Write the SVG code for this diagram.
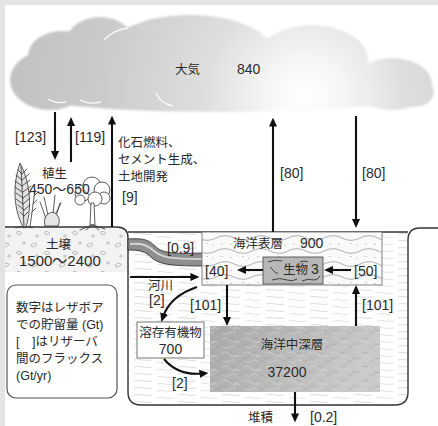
<svg xmlns="http://www.w3.org/2000/svg" width="438" height="426" viewBox="0 0 438 426">
  <defs>
    <style>
      text { font-family: "Liberation Sans", "Noto Sans CJK JP", sans-serif; fill: #2b2b2b; }
      .j { font-size: 12.5px; }
      .n { font-size: 14px; }
      .arrow { fill: none; stroke: #111; stroke-width: 2.1; marker-end: url(#ah); }
      .outline { fill: none; stroke: #333; stroke-width: 1.4; }
      .plant { fill: none; stroke: #333; stroke-width: 0.8; stroke-linecap: round; }
      .seam { fill: none; stroke: #fff; stroke-width: 1.3; opacity: 0.9; }
    </style>
    <marker id="ah" viewBox="0 0 10 10" refX="4" refY="5" markerWidth="9" markerHeight="9" markerUnits="userSpaceOnUse" orient="auto">
      <path d="M0,0.5 L10,5 L0,9.5 z" fill="#111"/>
    </marker>
    <radialGradient id="cloudFill" gradientUnits="userSpaceOnUse" cx="305" cy="96" r="290">
      <stop offset="0" stop-color="#ffffff"/>
      <stop offset="0.12" stop-color="#f7f7f7"/>
      <stop offset="0.35" stop-color="#dedede"/>
      <stop offset="0.7" stop-color="#cbcbcb"/>
      <stop offset="1" stop-color="#c2c2c2"/>
    </radialGradient>
    <filter id="soft" x="-5%" y="-10%" width="110%" height="120%">
      <feGaussianBlur stdDeviation="1"/>
    </filter>
    <linearGradient id="deepFill" x1="0" y1="0" x2="1" y2="0.3">
      <stop offset="0" stop-color="#a9a9a9"/>
      <stop offset="1" stop-color="#c9c9c9"/>
    </linearGradient>
    <pattern id="water" width="44" height="7" patternUnits="userSpaceOnUse">
      <path d="M2,3 q4,-1 9,0 t9,0" fill="none" stroke="#cdcdcd" stroke-width="0.7"/>
      <path d="M25,6 q4,-1 8,0 t8,0" fill="none" stroke="#d6d6d6" stroke-width="0.7"/>
    </pattern>
    <pattern id="waves" width="36" height="13" patternUnits="userSpaceOnUse">
      <path d="M0,4 C6,1 12,1 18,4 S30,7 36,4" fill="none" stroke="#8c8c8c" stroke-width="0.7"/>
      <circle cx="6" cy="9.5" r="0.6" fill="#999"/>
      <circle cx="15" cy="10.5" r="0.6" fill="#999"/>
      <circle cx="27" cy="9.5" r="0.6" fill="#999"/>
      <circle cx="33" cy="11" r="0.6" fill="#999"/>
    </pattern>
    <pattern id="swirl" width="22" height="14" patternUnits="userSpaceOnUse">
      <path d="M1,4 q4,-4 8,0 t8,1 M3,11 q3,3 7,0 q3,-3 6,1 M14,7 q3,-3 6,0" fill="none" stroke="#dadada" stroke-width="0.7" opacity="0.8"/>
      <path d="M0,8 q4,2 7,-1 M10,2 q3,2 6,0 M17,12 q2,-2 5,-1" fill="none" stroke="#929292" stroke-width="0.5" opacity="0.7"/>
    </pattern>
    <pattern id="pebbles" width="28" height="20" patternUnits="userSpaceOnUse">
      <g fill="none" stroke="#9a9a9a" stroke-width="0.6">
        <ellipse cx="6" cy="5" rx="3" ry="1.6" transform="rotate(-20 6 5)"/>
        <ellipse cx="19" cy="13" rx="2.6" ry="1.5" transform="rotate(15 19 13)"/>
        <ellipse cx="24" cy="3" rx="1.5" ry="1"/>
        <ellipse cx="9" cy="16" rx="1.4" ry="1"/>
      </g>
    </pattern>
  </defs>

  <!-- page frame -->
  <rect x="0" y="0" width="438" height="426" fill="#e4e4e4"/>
  <rect x="5" y="5" width="433" height="421" fill="#ffffff"/>

  <!-- atmosphere cloud -->
  <g id="atmosphere">
    <g fill="url(#cloudFill)" filter="url(#soft)">
      <ellipse cx="50" cy="80" rx="40" ry="30"/>
      <ellipse cx="62" cy="56" rx="34" ry="25"/>
      <ellipse cx="100" cy="51" rx="38" ry="34"/>
      <ellipse cx="190" cy="56" rx="86" ry="41"/>
      <ellipse cx="312" cy="60" rx="56" ry="35"/>
      <ellipse cx="392" cy="84" rx="40" ry="26"/>
      <ellipse cx="414" cy="92" rx="20" ry="15"/>
      <ellipse cx="222" cy="92" rx="206" ry="20"/>
    </g>
    <path class="seam" d="M104,40 Q113,30 128,28"/>
    <path class="seam" d="M262,36 Q268,30 281,29"/>
    <path class="seam" d="M48,99 Q56,104 66,102"/>
    <path class="seam" d="M80,100 Q89,105 101,102"/>
    <path class="seam" d="M156,93 Q160,103 173,106"/>
    <path class="seam" d="M272,107 Q281,111 293,108"/>
    <text class="j" x="175" y="74">大気</text>
    <text class="n" x="237" y="74">840</text>
  </g>

  <!-- ocean basin with water -->
  <g id="ocean-basin">
    <rect x="128" y="232" width="280" height="173" fill="url(#water)"/>
    <line x1="128" y1="232" x2="408" y2="232" stroke="#333" stroke-width="1.3"/>
  </g>

  <!-- soil block -->
  <g id="soil">
    <path d="M5,227 L117,227 Q128,227 128,238 L128,272 L5,272 Z" fill="#f3f3f3"/>
    <path d="M5,227 L117,227 Q128,227 128,238 L128,272 L5,272 Z" fill="url(#pebbles)"/>
    <text class="j" x="46" y="249">土壌</text>
    <text x="19" y="266" style="font-size:15px">1500〜2400</text>
  </g>

  <!-- land / basin outline -->
  <path class="outline" d="M5,227 L117,227 Q128,227 128,238 L128,392 Q128,405 141,405 L395,405 Q408,405 408,392 L408,240 Q408,228 420,228 L438,228"/>

  <!-- vegetation -->
  <g id="vegetation">
    <!-- fern -->
    <path d="M23,227 C14,210 12,186 20,163 C29,180 33,205 26,227 Z" fill="#e2e2e2" stroke="#333" stroke-width="0.8"/>
    <path class="plant" d="M24,227 L21,166"/>
    <path class="plant" d="M22,174 l-4,-4 M22,174 l5,-5 M22,180 l-6,-5 M22,180 l7,-6 M22,186 l-7,-5 M22,186 l8,-6 M22,192 l-7,-5 M23,192 l8,-6 M23,198 l-7,-5 M23,198 l8,-6 M23,204 l-7,-5 M23,204 l7,-6 M24,210 l-6,-5 M24,210 l6,-5 M24,216 l-4,-4 M24,216 l4,-4"/>
    <path class="plant" d="M30,227 L35,190 M34,196 l4,-4 M33,204 l4,-4 M32,212 l4,-4"/>
    <path class="plant" d="M16,228 q4,-3 8,0 q4,-3 8,0"/>
    <!-- grass -->
    <path class="plant" stroke="#888" d="M50,224 L44,197 M52,224 L55,195 M48,224 L40,202 M54,224 L60,203"/>
    <path d="M45,226 q-2,-8 3,-12 q5,-4 9,1 q4,4 1,11 z" fill="#e6e6e6" stroke="#333" stroke-width="0.8"/>
    <path class="plant" d="M56,213 l5,-10"/>
    <!-- tree -->
    <g fill="#fff" stroke="#333" stroke-width="0.8">
      <circle cx="83" cy="193" r="8"/>
      <circle cx="92" cy="186" r="9"/>
      <circle cx="102" cy="190" r="8"/>
      <circle cx="104" cy="198" r="6"/>
      <circle cx="95" cy="199" r="7"/>
      <circle cx="80" cy="200" r="5"/>
    </g>
    <path d="M91,203 L90,225 L95,225 L94,203 Z" fill="#fff" stroke="#333" stroke-width="0.8"/>
    <path class="plant" d="M92,225 L80,230 M92,225 L86,230 M93,225 L99,230 M93,225 L105,229"/>
    <text class="j" x="42" y="178">植生</text>
    <text class="n" x="29" y="194">450〜650</text>
  </g>

  <!-- river -->
  <g id="river">
    <path d="M128,239 C145,238 148,240 155,246 C162,253 170,254 203,253 L203,266 C175,266 160,265 152,258 C145,251 140,250 128,250 Z" fill="#8e8e8e" stroke="#333" stroke-width="0.9"/>
    <path d="M130,244 C144,243 148,246 154,251 C162,258 172,259 202,259" fill="none" stroke="#d4d4d4" stroke-width="2"/>
  </g>

  <!-- ocean surface layer -->
  <g id="surface-layer">
    <rect x="202" y="232" width="180" height="53" fill="#fafafa" stroke="#777" stroke-width="0.9"/>
    <rect x="202" y="232" width="180" height="53" fill="url(#waves)"/>
    <text class="j" x="233" y="248">海洋表層</text>
    <text class="n" x="300" y="248">900</text>
  </g>

  <!-- marine biota -->
  <g id="biota">
    <rect x="263" y="257" width="60" height="27" fill="#b7b7b7" stroke="#555" stroke-width="0.9"/>
    <path d="M268,262 q7,-3 14,-1 M270,267 l5,5 q1,2 3,1 M272,280 q8,-3 15,0 q6,2 10,-1 M302,281 q6,-3 12,-1 q4,0 6,-4 M300,262 q4,-2 8,0" fill="none" stroke="#333" stroke-width="0.9"/>
    <text class="j" x="283" y="274">生物</text>
    <text class="n" x="311" y="274">3</text>
  </g>

  <!-- deep ocean -->
  <g id="deep-ocean">
    <rect x="210" y="326" width="170" height="66" fill="url(#deepFill)"/>
    <rect x="210" y="326" width="170" height="66" fill="url(#swirl)"/>
    <text class="j" x="292" y="349" text-anchor="middle">海洋中深層</text>
    <text class="n" x="287" y="377" text-anchor="middle">37200</text>
  </g>

  <!-- dissolved organic matter -->
  <g id="dissolved-organic">
    <rect x="137" y="322" width="67" height="36" fill="#fff" stroke="#666" stroke-width="0.9"/>
    <text class="j" x="170.5" y="337" text-anchor="middle">溶存有機物</text>
    <text class="n" x="170.5" y="354" text-anchor="middle">700</text>
  </g>

  <!-- legend -->
  <g id="legend">
    <rect x="7" y="285" width="110" height="113" rx="9" fill="#fff" stroke="#555" stroke-width="1.2"/>
    <text class="j" x="16" y="312">数字はレザボア</text>
    <text class="j" x="16" y="329">での貯留量 (Gt)</text>
    <text class="j" x="16" y="346">[　]はリザーバ</text>
    <text class="j" x="16" y="363">間のフラックス</text>
    <text class="j" x="16" y="380">(Gt/yr)</text>
  </g>

  <!-- flux connectors -->
  <g id="connectors">
    <path class="arrow" d="M55,112 L55,154.6"/>
    <path class="arrow" d="M71,162 L71,122.4"/>
    <path class="arrow" d="M112,227 L112,121"/>
    <path class="arrow" d="M273,232 L273,123"/>
    <path class="arrow" d="M356,116 L356,222.6"/>
    <path class="arrow" d="M130,277 L194,277"/>
    <path class="arrow" d="M263,270 L242.4,270"/>
    <path class="arrow" d="M351,270 L329.4,270"/>
    <path class="arrow" d="M227,285 L227,320.6"/>
    <path class="arrow" d="M356,326 L356,290.4"/>
    <path class="arrow" d="M197,287 Q170,296 163,317"/>
    <path class="arrow" d="M164,359 Q178,376 203,373.5"/>
    <path class="arrow" d="M295,392 L295,417"/>
  </g>

  <!-- flux labels -->
  <g id="flux-labels">
    <text class="n" x="15" y="142">[123]</text>
    <text class="n" x="75" y="142">[119]</text>
    <text class="j" x="118" y="147">化石燃料、</text>
    <text class="j" x="118" y="164">セメント生成、</text>
    <text class="j" x="118" y="181">土地開発</text>
    <text class="n" x="122" y="202">[9]</text>
    <text class="n" x="280" y="178">[80]</text>
    <text class="n" x="362" y="178">[80]</text>
    <text class="n" x="167" y="253">[0.9]</text>
    <text class="j" x="148" y="290">河川</text>
    <text class="n" x="149" y="305">[2]</text>
    <text class="n" x="205" y="276">[40]</text>
    <text class="n" x="354" y="276">[50]</text>
    <text class="n" x="190" y="310">[101]</text>
    <text class="n" x="362" y="310">[101]</text>
    <text class="n" x="172" y="388">[2]</text>
    <text class="j" x="248" y="422">堆積</text>
    <text class="n" x="310" y="422">[0.2]</text>
  </g>
</svg>
